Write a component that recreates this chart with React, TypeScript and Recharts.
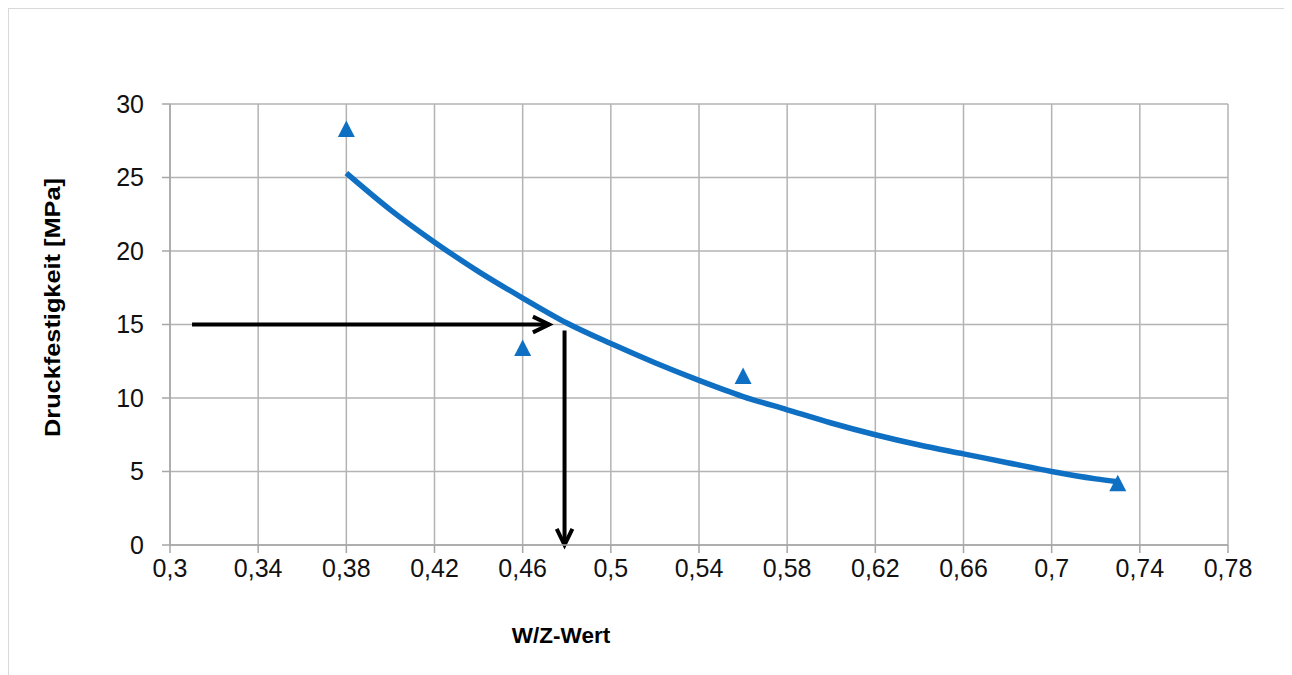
import { ComposedChart, Line, Scatter, XAxis, YAxis, CartesianGrid, ReferenceLine, Label } from 'recharts'

const xTicks = [0.3, 0.34, 0.38, 0.42, 0.46, 0.5, 0.54, 0.58, 0.62, 0.66, 0.7, 0.74, 0.78]
const yTicks = [0, 5, 10, 15, 20, 25, 30]

// trend curve
const trendX = [0.38, 0.4, 0.42, 0.44, 0.46, 0.48, 0.5, 0.52, 0.54, 0.56, 0.58, 0.6, 0.62, 0.64, 0.66, 0.68, 0.7, 0.72, 0.73]
const trendY = [25.3, 22.8, 20.6, 18.6, 16.8, 15.1, 13.7, 12.4, 11.2, 10.1, 9.2, 8.3, 7.5, 6.8, 6.2, 5.6, 5.0, 4.5, 4.3]

// measured samples
const sampleX = [0.38, 0.46, 0.56, 0.73]
const sampleY = [28.3, 13.4, 11.5, 4.2]

// reading arrows
const arrowAcross = [{ x: 0.31, y: 15 }, { x: 0.472, y: 15 }]
const arrowDown = [{ x: 0.479, y: 14.6 }, { x: 0.479, y: 0 }]

const trend = trendX.map((x, i) => ({ x, y: trendY[i] }))
const samples = sampleX.map((x, i) => ({ x, y: sampleY[i] }))

const blue = '#0F70C3'
const font = '"Liberation Sans", Arial, sans-serif'

const fmt = (v: number) => String(v).replace('.', ',')

function Arrow(props: any) {
  const { x1, y1, x2, y2 } = props
  const ang = Math.atan2(y2 - y1, x2 - x1)
  const len = 18
  const spread = 0.45
  const ax = x2 - len * Math.cos(ang - spread)
  const ay = y2 - len * Math.sin(ang - spread)
  const bx = x2 - len * Math.cos(ang + spread)
  const by = y2 - len * Math.sin(ang + spread)
  return (
    <g>
      <line x1={x1} y1={y1} x2={x2} y2={y2} stroke="#000" strokeWidth={4} />
      <polyline points={`${ax},${ay} ${x2},${y2} ${bx},${by}`} fill="none" stroke="#000" strokeWidth={4} />
    </g>
  )
}

function Triangle(props: any) {
  const { cx, cy } = props
  return <polygon points={`${cx},${cy - 8.5} ${cx - 8.5},${cy + 8} ${cx + 8.5},${cy + 8}`} fill={blue} />
}

function YTitle({ viewBox }: any) {
  const cx = viewBox.x + 43
  const cy = viewBox.y + viewBox.height / 2 - 17
  return (
    <text x={cx} y={cy} transform={`rotate(-90, ${cx}, ${cy})`} textAnchor="middle" dominantBaseline="central"
      fontFamily={font} fontSize={22} fontWeight="bold" fill="#000" textLength={259} lengthAdjust="spacingAndGlyphs">
      Druckfestigkeit [MPa]
    </text>
  )
}

function XTitle({ viewBox }: any) {
  const cx = viewBox.x + viewBox.width / 2 - 138
  const cy = viewBox.y + 90
  return (
    <text x={cx} y={cy} textAnchor="middle" dominantBaseline="central"
      fontFamily={font} fontSize={22.5} fontWeight="bold" fill="#000">
      W/Z-Wert
    </text>
  )
}

export default function App() {
  return (
    <div style={{ width: 1280, height: 700, border: '1px solid #d9d9d9', background: '#fff' }}>
      <ComposedChart width={1280} height={664} margin={{ top: 95, right: 61, bottom: 28, left: 0 }}>
        <CartesianGrid stroke="#b3b3b3" strokeWidth={1.5} />
        <XAxis
          type="number"
          dataKey="x"
          domain={[0.3, 0.78]}
          ticks={xTicks}
          tickFormatter={fmt}
          height={100}
          stroke="#a6a6a6"
          strokeWidth={1.5}
          tickSize={8}
          tickMargin={6}
          tick={{ fill: '#111', fontSize: 25, fontFamily: font }}
        >
          <Label content={<XTitle />} />
        </XAxis>
        <YAxis
          type="number"
          dataKey="y"
          domain={[0, 30]}
          ticks={yTicks}
          width={161}
          stroke="#a6a6a6"
          strokeWidth={1.5}
          tickSize={8}
          tickMargin={18}
          tick={{ fill: '#111', fontSize: 25, fontFamily: font }}
        >
          <Label content={<YTitle />} />
        </YAxis>
        <Line data={trend} dataKey="y" type="monotone" stroke={blue} strokeWidth={5.5} dot={false} isAnimationActive={false} />
        <Scatter data={samples} dataKey="y" shape={<Triangle />} isAnimationActive={false} />
        <ReferenceLine segment={arrowAcross} shape={Arrow} />
        <ReferenceLine segment={arrowDown} shape={Arrow} />
      </ComposedChart>
    </div>
  )
}
